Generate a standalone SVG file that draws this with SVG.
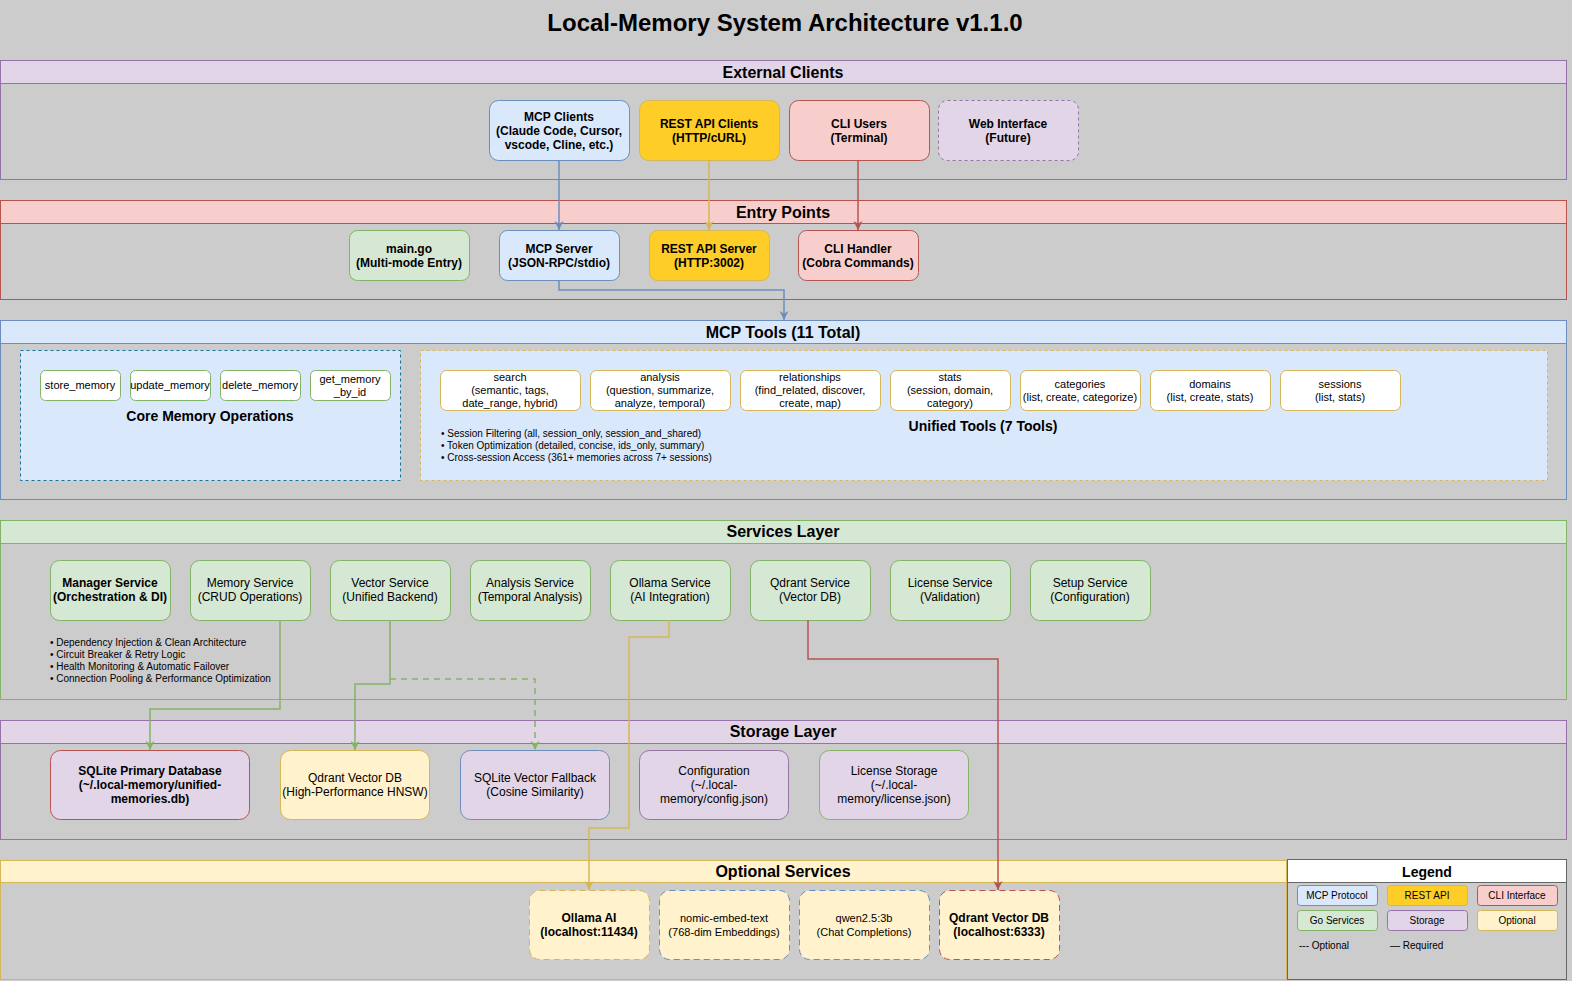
<svg xmlns="http://www.w3.org/2000/svg" width="1572" height="981" viewBox="0 0 1572 981">
<defs>
<style>
text{font-family:"Liberation Sans",Arial,sans-serif;fill:#000}
.title{font-size:24px;font-weight:bold}
.hdr{font-size:16px;font-weight:bold}
.n{font-size:12px}
.b{font-size:12px;font-weight:bold}
.s{font-size:11px}
.bl{font-size:10px}
.lg{font-size:10px}
.blue{fill:#dae8fc;stroke:#6c8ebf}
.yel{fill:#ffcd28;stroke:#d6b656}
.red{fill:#f8cecc;stroke:#b85450}
.grn{fill:#d5e8d4;stroke:#82b366}
.pur{fill:#e1d5e7;stroke:#9673a6}
.lyel{fill:#fff2cc;stroke:#d6b656}
.wht{fill:#ffffff}
.cont{fill:none}
.e{fill:none;stroke-width:1.5}
</style>
<marker id="aBlue" markerUnits="userSpaceOnUse" markerWidth="10" markerHeight="10" refX="9" refY="5" orient="auto"><path d="M0,0.5 L9,5 L0,9.5 L2.5,5 z" fill="#6c8ebf"/></marker>
<marker id="aYel" markerUnits="userSpaceOnUse" markerWidth="10" markerHeight="10" refX="9" refY="5" orient="auto"><path d="M0,0.5 L9,5 L0,9.5 L2.5,5 z" fill="#d6b656"/></marker>
<marker id="aRed" markerUnits="userSpaceOnUse" markerWidth="10" markerHeight="10" refX="9" refY="5" orient="auto"><path d="M0,0.5 L9,5 L0,9.5 L2.5,5 z" fill="#b85450"/></marker>
<marker id="aGrn" markerUnits="userSpaceOnUse" markerWidth="10" markerHeight="10" refX="9" refY="5" orient="auto"><path d="M0,0.5 L9,5 L0,9.5 L2.5,5 z" fill="#82b366"/></marker>
</defs>
<rect x="0" y="0" width="1572" height="981" fill="#cccccc"/>
<text class="title" x="785" y="31" text-anchor="middle">Local-Memory System Architecture v1.1.0</text>

<!-- External Clients -->
<g id="external-clients">
<rect x="0.5" y="60.5" width="1566" height="23" class="pur"/>
<rect x="0.5" y="60.5" width="1566" height="119" class="cont" stroke="#9673a6"/>
<text class="hdr" x="783" y="78" text-anchor="middle">External Clients</text>
</g>
<g id="mcp-clients">
<rect x="489.5" y="100.5" width="140" height="60" rx="9" class="blue"/>
<text class="b" text-anchor="middle"><tspan x="559" y="121">MCP Clients</tspan><tspan x="559" y="135">(Claude Code, Cursor,</tspan><tspan x="559" y="149">vscode, Cline, etc.)</tspan></text>
</g>
<g id="rest-api-clients">
<rect x="639.5" y="100.5" width="140" height="60" rx="9" class="yel"/>
<text class="b" text-anchor="middle"><tspan x="709" y="128">REST API Clients</tspan><tspan x="709" y="142">(HTTP/cURL)</tspan></text>
</g>
<g id="cli-users">
<rect x="789.5" y="100.5" width="140" height="60" rx="9" class="red"/>
<text class="b" text-anchor="middle"><tspan x="859" y="128">CLI Users</tspan><tspan x="859" y="142">(Terminal)</tspan></text>
</g>
<g id="web-interface">
<rect x="938.5" y="100.5" width="140" height="60" rx="9" class="pur" stroke-dasharray="3,3"/>
<text class="b" text-anchor="middle"><tspan x="1008" y="128">Web Interface</tspan><tspan x="1008" y="142">(Future)</tspan></text>
</g>

<!-- Entry Points -->
<g id="entry-points">
<rect x="0.5" y="200.5" width="1566" height="23" class="red"/>
<rect x="0.5" y="200.5" width="1566" height="99" class="cont" stroke="#b85450"/>
<text class="hdr" x="783" y="218" text-anchor="middle">Entry Points</text>
</g>
<g id="main-go">
<rect x="349.5" y="230.5" width="120" height="50" rx="8" class="grn"/>
<text class="b" text-anchor="middle"><tspan x="409" y="253">main.go</tspan><tspan x="409" y="267">(Multi-mode Entry)</tspan></text>
</g>
<g id="mcp-server">
<rect x="499.5" y="230.5" width="120" height="50" rx="8" class="blue"/>
<text class="b" text-anchor="middle"><tspan x="559" y="253">MCP Server</tspan><tspan x="559" y="267">(JSON-RPC/stdio)</tspan></text>
</g>
<g id="rest-api-server">
<rect x="649.5" y="230.5" width="120" height="50" rx="8" class="yel"/>
<text class="b" text-anchor="middle"><tspan x="709" y="253">REST API Server</tspan><tspan x="709" y="267">(HTTP:3002)</tspan></text>
</g>
<g id="cli-handler">
<rect x="798.5" y="230.5" width="120" height="50" rx="8" class="red"/>
<text class="b" text-anchor="middle"><tspan x="858" y="253">CLI Handler</tspan><tspan x="858" y="267">(Cobra Commands)</tspan></text>
</g>

<!-- MCP Tools -->
<g id="mcp-tools">
<rect x="0.5" y="320.5" width="1566" height="23" class="blue"/>
<rect x="0.5" y="320.5" width="1566" height="179" class="cont" stroke="#6c8ebf"/>
<text class="hdr" x="783" y="338" text-anchor="middle">MCP Tools (11 Total)</text>
</g>
<g id="core-memory-ops">
<rect x="20.5" y="350.5" width="380" height="130" fill="#dae8fc" stroke="#10739e" stroke-dasharray="3,3"/>
<text x="210" y="421" text-anchor="middle" style="font-size:14px;font-weight:bold">Core Memory Operations</text>
</g>
<g id="store-memory">
<rect x="40.5" y="370.5" width="80" height="30" rx="5" class="wht" stroke="#82b366"/>
<text class="s" x="80" y="389" text-anchor="middle">store_memory</text>
</g>
<g id="update-memory">
<rect x="130.5" y="370.5" width="80" height="30" rx="5" class="wht" stroke="#82b366"/>
<text class="s" x="170" y="389" text-anchor="middle">update_memory</text>
</g>
<g id="delete-memory">
<rect x="220.5" y="370.5" width="80" height="30" rx="5" class="wht" stroke="#82b366"/>
<text class="s" x="260" y="389" text-anchor="middle">delete_memory</text>
</g>
<g id="get-memory-by-id">
<rect x="310.5" y="370.5" width="80" height="30" rx="5" class="wht" stroke="#82b366"/>
<text class="s" text-anchor="middle"><tspan x="350" y="383">get_memory</tspan><tspan x="350" y="396">_by_id</tspan></text>
</g>
<g id="unified-tools">
<rect x="420.5" y="350.5" width="1127" height="130" fill="#dae8fc" stroke="#d6b656" stroke-dasharray="3,3"/>
<text x="983" y="431" text-anchor="middle" style="font-size:14px;font-weight:bold">Unified Tools (7 Tools)</text>
<text class="bl"><tspan x="441" y="437">• Session Filtering (all, session_only, session_and_shared)</tspan><tspan x="441" y="449">• Token Optimization (detailed, concise, ids_only, summary)</tspan><tspan x="441" y="461">• Cross-session Access (361+ memories across 7+ sessions)</tspan></text>
</g>
<g id="tool-search">
<rect x="440.5" y="370.5" width="140" height="40" rx="6" class="wht" stroke="#d6b656"/>
<text class="s" text-anchor="middle"><tspan x="510" y="381">search</tspan><tspan x="510" y="394">(semantic, tags,</tspan><tspan x="510" y="407">date_range, hybrid)</tspan></text>
</g>
<g id="tool-analysis">
<rect x="590.5" y="370.5" width="140" height="40" rx="6" class="wht" stroke="#d6b656"/>
<text class="s" text-anchor="middle"><tspan x="660" y="381">analysis</tspan><tspan x="660" y="394">(question, summarize,</tspan><tspan x="660" y="407">analyze, temporal)</tspan></text>
</g>
<g id="tool-relationships">
<rect x="740.5" y="370.5" width="140" height="40" rx="6" class="wht" stroke="#d6b656"/>
<text class="s" text-anchor="middle"><tspan x="810" y="381">relationships</tspan><tspan x="810" y="394">(find_related, discover,</tspan><tspan x="810" y="407">create, map)</tspan></text>
</g>
<g id="tool-stats">
<rect x="890.5" y="370.5" width="120" height="40" rx="6" class="wht" stroke="#d6b656"/>
<text class="s" text-anchor="middle"><tspan x="950" y="381">stats</tspan><tspan x="950" y="394">(session, domain,</tspan><tspan x="950" y="407">category)</tspan></text>
</g>
<g id="tool-categories">
<rect x="1020.5" y="370.5" width="120" height="40" rx="6" class="wht" stroke="#d6b656"/>
<text class="s" text-anchor="middle"><tspan x="1080" y="388">categories</tspan><tspan x="1080" y="401">(list, create, categorize)</tspan></text>
</g>
<g id="tool-domains">
<rect x="1150.5" y="370.5" width="120" height="40" rx="6" class="wht" stroke="#d6b656"/>
<text class="s" text-anchor="middle"><tspan x="1210" y="388">domains</tspan><tspan x="1210" y="401">(list, create, stats)</tspan></text>
</g>
<g id="tool-sessions">
<rect x="1280.5" y="370.5" width="120" height="40" rx="6" class="wht" stroke="#d6b656"/>
<text class="s" text-anchor="middle"><tspan x="1340" y="388">sessions</tspan><tspan x="1340" y="401">(list, stats)</tspan></text>
</g>

<!-- Services Layer -->
<g id="services-layer">
<rect x="0.5" y="520.5" width="1566" height="23" class="grn"/>
<rect x="0.5" y="520.5" width="1566" height="179" class="cont" stroke="#82b366"/>
<text class="hdr" x="783" y="537" text-anchor="middle">Services Layer</text>
<text class="bl"><tspan x="50" y="646">• Dependency Injection &amp; Clean Architecture</tspan><tspan x="50" y="658">• Circuit Breaker &amp; Retry Logic</tspan><tspan x="50" y="670">• Health Monitoring &amp; Automatic Failover</tspan><tspan x="50" y="682">• Connection Pooling &amp; Performance Optimization</tspan></text>
</g>
<g id="manager-service">
<rect x="50.5" y="560.5" width="120" height="60" rx="9" class="grn"/>
<text class="b" text-anchor="middle"><tspan x="110" y="587">Manager Service</tspan><tspan x="110" y="601">(Orchestration &amp; DI)</tspan></text>
</g>
<g id="memory-service">
<rect x="190.5" y="560.5" width="120" height="60" rx="9" class="grn"/>
<text class="n" text-anchor="middle"><tspan x="250" y="587">Memory Service</tspan><tspan x="250" y="601">(CRUD Operations)</tspan></text>
</g>
<g id="vector-service">
<rect x="330.5" y="560.5" width="120" height="60" rx="9" class="grn"/>
<text class="n" text-anchor="middle"><tspan x="390" y="587">Vector Service</tspan><tspan x="390" y="601">(Unified Backend)</tspan></text>
</g>
<g id="analysis-service">
<rect x="470.5" y="560.5" width="120" height="60" rx="9" class="grn"/>
<text class="n" text-anchor="middle"><tspan x="530" y="587">Analysis Service</tspan><tspan x="530" y="601">(Temporal Analysis)</tspan></text>
</g>
<g id="ollama-service">
<rect x="610.5" y="560.5" width="120" height="60" rx="9" class="grn"/>
<text class="n" text-anchor="middle"><tspan x="670" y="587">Ollama Service</tspan><tspan x="670" y="601">(AI Integration)</tspan></text>
</g>
<g id="qdrant-service">
<rect x="750.5" y="560.5" width="120" height="60" rx="9" class="grn"/>
<text class="n" text-anchor="middle"><tspan x="810" y="587">Qdrant Service</tspan><tspan x="810" y="601">(Vector DB)</tspan></text>
</g>
<g id="license-service">
<rect x="890.5" y="560.5" width="120" height="60" rx="9" class="grn"/>
<text class="n" text-anchor="middle"><tspan x="950" y="587">License Service</tspan><tspan x="950" y="601">(Validation)</tspan></text>
</g>
<g id="setup-service">
<rect x="1030.5" y="560.5" width="120" height="60" rx="9" class="grn"/>
<text class="n" text-anchor="middle"><tspan x="1090" y="587">Setup Service</tspan><tspan x="1090" y="601">(Configuration)</tspan></text>
</g>

<!-- Storage Layer -->
<g id="storage-layer">
<rect x="0.5" y="720.5" width="1566" height="23" class="pur"/>
<rect x="0.5" y="720.5" width="1566" height="119" class="cont" stroke="#9673a6"/>
<text class="hdr" x="783" y="737" text-anchor="middle">Storage Layer</text>
</g>
<g id="sqlite-primary">
<rect x="50.5" y="750.5" width="199" height="69" rx="10" fill="#e1d5e7" stroke="#b85450"/>
<text class="b" text-anchor="middle"><tspan x="150" y="775">SQLite Primary Database</tspan><tspan x="150" y="789">(~/.local-memory/unified-</tspan><tspan x="150" y="803">memories.db)</tspan></text>
</g>
<g id="qdrant-vector-storage">
<rect x="280.5" y="750.5" width="149" height="69" rx="10" class="lyel"/>
<text class="n" text-anchor="middle"><tspan x="355" y="782">Qdrant Vector DB</tspan><tspan x="355" y="796">(High-Performance HNSW)</tspan></text>
</g>
<g id="sqlite-vector-fallback">
<rect x="460.5" y="750.5" width="149" height="69" rx="10" fill="#e1d5e7" stroke="#6c8ebf"/>
<text class="n" text-anchor="middle"><tspan x="535" y="782">SQLite Vector Fallback</tspan><tspan x="535" y="796">(Cosine Similarity)</tspan></text>
</g>
<g id="configuration-storage">
<rect x="639.5" y="750.5" width="149" height="69" rx="10" class="pur"/>
<text class="n" text-anchor="middle"><tspan x="714" y="775">Configuration</tspan><tspan x="714" y="789">(~/.local-</tspan><tspan x="714" y="803">memory/config.json)</tspan></text>
</g>
<g id="license-storage">
<rect x="819.5" y="750.5" width="149" height="69" rx="10" fill="#e1d5e7" stroke="#82b366"/>
<text class="n" text-anchor="middle"><tspan x="894" y="775">License Storage</tspan><tspan x="894" y="789">(~/.local-</tspan><tspan x="894" y="803">memory/license.json)</tspan></text>
</g>

<!-- Optional Services -->
<g id="optional-services">
<rect x="0.5" y="860.5" width="1286" height="22" class="lyel"/>
<rect x="0.5" y="860.5" width="1286" height="119" class="cont" stroke="#d6b656"/>
<text class="hdr" x="783" y="877" text-anchor="middle">Optional Services</text>
</g>
<g id="ollama-ai">
<rect x="529.5" y="890.5" width="120" height="69" rx="10" class="lyel" stroke-dasharray="6,4"/>
<text class="b" text-anchor="middle"><tspan x="589" y="922">Ollama AI</tspan><tspan x="589" y="936">(localhost:11434)</tspan></text>
</g>
<g id="nomic-embed">
<rect x="659.5" y="890.5" width="130" height="69" rx="10" fill="#fff2cc" stroke="#6c8ebf" stroke-dasharray="6,4"/>
<text class="s" text-anchor="middle"><tspan x="724" y="922">nomic-embed-text</tspan><tspan x="724" y="936">(768-dim Embeddings)</tspan></text>
</g>
<g id="qwen">
<rect x="799.5" y="890.5" width="130" height="69" rx="10" fill="#fff2cc" stroke="#6c8ebf" stroke-dasharray="6,4"/>
<text class="s" text-anchor="middle"><tspan x="864" y="922">qwen2.5:3b</tspan><tspan x="864" y="936">(Chat Completions)</tspan></text>
</g>
<g id="qdrant-vector-optional">
<rect x="939.5" y="890.5" width="120" height="69" rx="10" fill="#fff2cc" stroke="#b85450" stroke-dasharray="6,4"/>
<text class="b" text-anchor="middle"><tspan x="999" y="922">Qdrant Vector DB</tspan><tspan x="999" y="936">(localhost:6333)</tspan></text>
</g>

<!-- Legend -->
<g id="legend">
<rect x="1287.5" y="859.5" width="279" height="23" fill="#ffffff" stroke="#666666"/>
<rect x="1287.5" y="859.5" width="279" height="120" fill="none" stroke="#666666"/>
<text x="1427" y="877" text-anchor="middle" style="font-size:14px;font-weight:bold">Legend</text>
<rect x="1297.5" y="885.5" width="80" height="20" rx="3" class="blue"/>
<text class="lg" x="1337" y="899" text-anchor="middle">MCP Protocol</text>
<rect x="1387.5" y="885.5" width="80" height="20" rx="3" class="yel"/>
<text class="lg" x="1427" y="899" text-anchor="middle">REST API</text>
<rect x="1477.5" y="885.5" width="80" height="20" rx="3" class="red"/>
<text class="lg" x="1517" y="899" text-anchor="middle">CLI Interface</text>
<rect x="1297.5" y="910.5" width="80" height="20" rx="3" class="grn"/>
<text class="lg" x="1337" y="924" text-anchor="middle">Go Services</text>
<rect x="1387.5" y="910.5" width="80" height="20" rx="3" class="pur"/>
<text class="lg" x="1427" y="924" text-anchor="middle">Storage</text>
<rect x="1477.5" y="910.5" width="80" height="20" rx="3" class="lyel"/>
<text class="lg" x="1517" y="924" text-anchor="middle">Optional</text>
<text class="lg" x="1299" y="949">--- Optional</text>
<text class="lg" x="1390" y="949">— Required</text>
</g>

<!-- Connectors -->
<g id="connectors">
<path class="e" d="M559,160 V230" stroke="#6c8ebf" marker-end="url(#aBlue)"/>
<path class="e" d="M709,160 V230" stroke="#d6b656" marker-end="url(#aYel)"/>
<path class="e" d="M858,160 V230" stroke="#b85450" marker-end="url(#aRed)"/>
<path class="e" d="M559,280 V290 H784 V320" stroke="#6c8ebf" stroke-width="2" marker-end="url(#aBlue)"/>
<path class="e" d="M280,620 V709 H150 V750" stroke="#82b366" marker-end="url(#aGrn)"/>
<path class="e" d="M390,620 V684 H355 V750" stroke="#82b366" marker-end="url(#aGrn)"/>
<path class="e" d="M390,679 H535 V750" stroke="#82b366" stroke-dasharray="6,5" marker-end="url(#aGrn)"/>
<path class="e" d="M669,620 V637 H629 V828 H589 V890" stroke="#d6b656" marker-end="url(#aYel)"/>
<path class="e" d="M808,620 V659 H998 V890" stroke="#b85450" marker-end="url(#aRed)"/>
</g>
</svg>
